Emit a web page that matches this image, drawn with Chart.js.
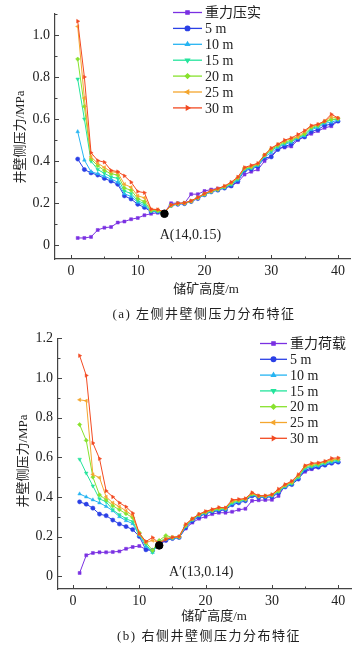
<!DOCTYPE html>
<html>
<head>
<meta charset="utf-8">
<script src="https://cdn.jsdelivr.net/npm/chart.js@4.4.1/dist/chart.umd.min.js"></script>
<style>
body{margin:0;background:#fff;width:363px;height:649px;position:relative;overflow:hidden;font-family:"Liberation Serif","Noto Sans CJK SC",serif;color:#222}
canvas{position:absolute;left:0}
.txt{position:absolute;white-space:nowrap;transform:translate(-50%,-50%);font-size:13px;line-height:1}
.ytit{transform:translate(-50%,-50%) rotate(-90deg)}
.pie{letter-spacing:1.5px}
</style>
</head>
<body>
<canvas id="graficaA" width="363" height="300" style="top:0"></canvas>
<canvas id="graficaB" width="363" height="300" style="top:325px"></canvas>

<div class="txt ytit" style="left:19px;top:137px">井壁侧压力/MPa</div>
<div class="txt" style="left:206px;top:288px">储矿高度/m</div>
<div class="txt pie" style="left:204px;top:313px">(a) 左侧井壁侧压力分布特征</div>

<div class="txt ytit" style="left:22px;top:461px">井壁侧压力/MPa</div>
<div class="txt" style="left:214px;top:615px">储矿高度/m</div>
<div class="txt pie" style="left:209px;top:635px">(b) 右侧井壁侧压力分布特征</div>

<script>
// alturas de almacenamiento (m)
let alturas = [1,2,3,4,5,6,7,8,9,10,11,12,13,14,15,16,17,18,19,20,21,22,23,24,25,26,27,28,29,30,31,32,33,34,35,36,37,38,39,40];
let ticksX = [0,10,20,30,40];
let ticksYA = [0,0.2,0.4,0.6,0.8,1.0];
let ticksYB = [0,0.2,0.4,0.6,0.8,1.0,1.2];

let nombresA = ['重力压实','5 m','10 m','15 m','20 m','25 m','30 m'];
let nombresB = ['重力荷载','5 m','10 m','15 m','20 m','25 m','30 m'];

// (a) lado izquierdo
let izqGravedad = [0.035,0.035,0.04,0.073,0.084,0.087,0.108,0.113,0.124,0.13,0.143,0.15,0.155,0.155,0.2,0.2,0.2,0.243,0.243,0.258,0.265,0.27,0.275,0.282,0.3,0.336,0.35,0.36,0.4,0.423,0.462,0.465,0.47,0.5,0.516,0.53,0.543,0.558,0.566,0.59];
let izq5 = [0.41,0.36,0.344,0.334,0.318,0.305,0.29,0.235,0.22,0.195,0.18,0.16,0.16,0.155,0.19,0.195,0.198,0.208,0.222,0.24,0.254,0.262,0.272,0.282,0.305,0.355,0.362,0.375,0.415,0.42,0.455,0.47,0.48,0.505,0.515,0.54,0.55,0.57,0.575,0.59];
let izq10 = [0.54,0.405,0.35,0.34,0.328,0.315,0.3,0.245,0.232,0.205,0.188,0.162,0.16,0.155,0.19,0.196,0.2,0.21,0.224,0.24,0.255,0.264,0.274,0.288,0.31,0.36,0.366,0.38,0.42,0.44,0.465,0.48,0.49,0.51,0.52,0.55,0.56,0.58,0.585,0.595];
let izq15 = [0.79,0.6,0.4,0.36,0.342,0.325,0.318,0.258,0.246,0.212,0.198,0.164,0.162,0.155,0.188,0.197,0.2,0.21,0.225,0.242,0.256,0.265,0.276,0.29,0.315,0.362,0.368,0.383,0.425,0.45,0.47,0.485,0.495,0.512,0.525,0.555,0.565,0.585,0.595,0.6];
let izq20 = [0.885,0.66,0.41,0.378,0.356,0.34,0.334,0.272,0.262,0.222,0.208,0.166,0.165,0.155,0.19,0.198,0.2,0.21,0.226,0.243,0.257,0.266,0.278,0.295,0.32,0.366,0.372,0.386,0.428,0.455,0.475,0.49,0.5,0.515,0.53,0.56,0.57,0.588,0.598,0.602];
let izq25 = [1.04,0.7,0.42,0.39,0.37,0.35,0.345,0.29,0.276,0.235,0.226,0.17,0.17,0.156,0.19,0.198,0.2,0.21,0.226,0.244,0.258,0.267,0.28,0.298,0.322,0.368,0.375,0.388,0.43,0.46,0.48,0.495,0.508,0.515,0.54,0.565,0.575,0.59,0.61,0.605];
let izq30 = [1.065,0.8,0.44,0.403,0.395,0.356,0.35,0.33,0.3,0.256,0.25,0.172,0.17,0.158,0.192,0.2,0.202,0.212,0.228,0.246,0.26,0.27,0.282,0.3,0.325,0.37,0.38,0.39,0.43,0.462,0.48,0.5,0.51,0.527,0.545,0.569,0.575,0.59,0.623,0.605];

// (b) lado derecho
let derGravedad = [0.016,0.105,0.117,0.12,0.12,0.122,0.125,0.138,0.147,0.152,0.135,0.13,0.16,0.18,0.19,0.195,0.24,0.27,0.29,0.3,0.313,0.32,0.32,0.325,0.335,0.34,0.38,0.383,0.384,0.385,0.405,0.458,0.475,0.497,0.527,0.54,0.55,0.563,0.57,0.577];
let der5 = [0.375,0.363,0.343,0.313,0.305,0.283,0.263,0.25,0.235,0.2,0.133,0.13,0.16,0.18,0.19,0.195,0.245,0.278,0.3,0.315,0.325,0.33,0.335,0.36,0.37,0.38,0.405,0.398,0.398,0.4,0.42,0.45,0.462,0.49,0.535,0.545,0.55,0.56,0.57,0.575];
let der10 = [0.415,0.4,0.385,0.37,0.352,0.33,0.3,0.28,0.265,0.205,0.15,0.12,0.17,0.185,0.19,0.196,0.25,0.283,0.305,0.318,0.328,0.335,0.338,0.365,0.375,0.384,0.41,0.4,0.4,0.405,0.425,0.452,0.466,0.496,0.542,0.552,0.556,0.566,0.575,0.58];
let der15 = [0.59,0.52,0.455,0.39,0.375,0.335,0.31,0.29,0.275,0.21,0.16,0.12,0.175,0.19,0.192,0.197,0.253,0.286,0.308,0.32,0.33,0.338,0.34,0.37,0.378,0.386,0.412,0.402,0.402,0.407,0.428,0.455,0.468,0.5,0.546,0.555,0.56,0.57,0.58,0.585];
let der20 = [0.765,0.685,0.5,0.41,0.385,0.355,0.335,0.315,0.295,0.22,0.17,0.13,0.18,0.205,0.195,0.198,0.256,0.288,0.31,0.322,0.332,0.34,0.342,0.375,0.382,0.388,0.415,0.404,0.404,0.41,0.43,0.458,0.472,0.505,0.552,0.56,0.565,0.575,0.585,0.59];
let der25 = [0.89,0.885,0.513,0.497,0.4,0.37,0.35,0.33,0.305,0.21,0.17,0.18,0.17,0.19,0.196,0.2,0.26,0.29,0.312,0.325,0.335,0.345,0.345,0.38,0.385,0.39,0.418,0.405,0.405,0.41,0.435,0.46,0.476,0.51,0.556,0.565,0.57,0.578,0.588,0.593];
let der30 = [1.113,1.013,0.672,0.593,0.43,0.4,0.37,0.35,0.318,0.215,0.175,0.195,0.165,0.185,0.196,0.2,0.262,0.29,0.313,0.327,0.337,0.347,0.345,0.385,0.388,0.392,0.422,0.406,0.406,0.412,0.44,0.463,0.48,0.513,0.558,0.57,0.572,0.58,0.595,0.597];

// puntos marcados
let puntoA = {x:14, y:0.15};
let puntoB = {x:13, y:0.155};
let textoA = 'A(14,0.15)';
let textoB = 'A′(13,0.14)';

let colores = ['#7a30e2','#2b40e6','#26b4f2','#24e49c','#88e22e','#f4a62e','#f24a22'];
let estilos = ['rect','circle','triangle','triangle','rectRot','triangle','triangle'];
let giros = [0,0,0,180,0,-90,90];

let fuente = '"Liberation Serif","Noto Sans CJK SC",serif';

function armarSeries(nombres, series, punto){
    let ds = series.map((s, i) => ({
        label: nombres[i],
        data: alturas.map((h, k) => ({x: h, y: s[k]})),
        borderColor: colores[i],
        backgroundColor: colores[i],
        pointStyle: estilos[i],
        rotation: giros[i],
        pointRadius: 2.1,
        pointBorderWidth: 0.5,
        borderWidth: 1,
        order: 10 - i
    }));
    ds.push({
        label: 'marca',
        marca: true,
        data: [punto],
        showLine: false,
        pointRadius: 3.8,
        pointStyle: 'circle',
        backgroundColor: '#000',
        borderColor: '#000',
        order: 0
    });
    return ds;
}

// marcas de ejes hacia adentro
const marcasEjes = {
    id: 'marcasEjes',
    afterDraw(chart, args, opts){
        let ctx = chart.ctx, sx = chart.scales.x, sy = chart.scales.y, area = chart.chartArea;
        ctx.save();
        ctx.strokeStyle = '#444';
        ctx.lineWidth = 1;
        ctx.beginPath();
        for (let v = 0; v <= 40; v += 5){
            let px = Math.round(sx.getPixelForValue(v)) + 0.5;
            let largo = v % 10 === 0 ? 4 : 2.5;
            ctx.moveTo(px, area.bottom);
            ctx.lineTo(px, area.bottom - largo);
        }
        for (let k = 0; k <= opts.pasosY; k++){
            let py = Math.round(sy.getPixelForValue(k / 10)) + 0.5;
            let largo = k % 2 === 0 ? 4 : 2.5;
            ctx.moveTo(area.left, py);
            ctx.lineTo(area.left + largo, py);
        }
        ctx.stroke();
        ctx.restore();
    }
};

// leyenda dentro del grafico
const leyenda = {
    id: 'leyenda',
    afterDraw(chart, args, opts){
        let ctx = chart.ctx;
        ctx.save();
        chart.data.datasets.forEach((ds, i) => {
            if (ds.marca) return;
            let yy = opts.y + i * opts.paso;
            ctx.strokeStyle = ds.borderColor;
            ctx.lineWidth = 1.3;
            ctx.beginPath();
            ctx.moveTo(opts.x, yy);
            ctx.lineTo(opts.x + opts.largo, yy);
            ctx.stroke();
            ctx.fillStyle = ds.backgroundColor;
            Chart.helpers.drawPoint(ctx, {pointStyle: ds.pointStyle, rotation: ds.rotation, radius: 2.3, borderWidth: 0.5}, opts.x + opts.largo / 2, yy);
            ctx.fillStyle = '#222';
            ctx.font = '14px ' + fuente;
            ctx.textAlign = 'left';
            ctx.textBaseline = 'middle';
            ctx.fillText(ds.label, opts.x + opts.largo + 3, yy + 1);
        });
        ctx.restore();
    }
};

// texto junto al punto negro
const etiqueta = {
    id: 'etiqueta',
    afterDraw(chart, args, opts){
        let ctx = chart.ctx;
        let p = opts.punto;
        let px = chart.scales.x.getPixelForValue(p.x);
        let py = chart.scales.y.getPixelForValue(p.y);
        ctx.save();
        ctx.fillStyle = '#222';
        ctx.font = '14px ' + fuente;
        ctx.textAlign = 'center';
        ctx.textBaseline = 'middle';
        ctx.fillText(opts.texto, px + opts.dx, py + opts.dy);
        ctx.restore();
    }
};

function crearGrafica(id, nombres, series, punto, texto, cfg){
    let ctx = document.getElementById(id).getContext('2d');
    return new Chart(ctx, {
        type: 'line',
        data: {datasets: armarSeries(nombres, series, punto)},
        plugins: [marcasEjes, leyenda, etiqueta],
        options: {
            responsive: false,
            animation: false,
            layout: {padding: cfg.padding},
            plugins: {
                legend: {display: false},
                tooltip: {enabled: false},
                marcasEjes: {pasosY: cfg.pasosY},
                leyenda: cfg.leyenda,
                etiqueta: {punto: punto, texto: texto, dx: cfg.dx, dy: cfg.dy}
            },
            scales: {
                x: {
                    type: 'linear',
                    min: cfg.xMin, max: cfg.xMax,
                    afterBuildTicks: s => { s.ticks = ticksX.map(v => ({value: v})); },
                    afterFit: s => { s.height = 20; },
                    grid: {display: true, drawOnChartArea: false, drawTicks: false},
                    border: {display: true, color: '#444', width: 1.2},
                    ticks: {padding: 4, color: '#222', font: {family: fuente, size: 14}, maxRotation: 0}
                },
                y: {
                    type: 'linear',
                    min: cfg.yMin, max: cfg.yMax,
                    afterBuildTicks: s => { s.ticks = cfg.ticksY.map(v => ({value: v})); },
                    afterFit: s => { s.width = 22; },
                    grid: {display: true, drawOnChartArea: false, drawTicks: false},
                    border: {display: true, color: '#444', width: 1.2},
                    ticks: {
                        padding: 5, color: '#222', font: {family: fuente, size: 14},
                        callback: v => v === 0 ? '0' : v.toFixed(1)
                    }
                }
            }
        }
    });
}

crearGrafica('graficaA', nombresA, [izqGravedad, izq5, izq10, izq15, izq20, izq25, izq30], puntoA, textoA, {
    padding: {left: 33, right: 13, top: 8, bottom: 21},
    xMin: -2.4, xMax: 41.8, yMin: -0.065, yMax: 1.102,
    ticksY: ticksYA, pasosY: 11,
    leyenda: {x: 173, y: 12.5, paso: 15.9, largo: 29},
    dx: 26, dy: 22
});

crearGrafica('graficaB', nombresB, [derGravedad, der5, der10, der15, der20, der25, der30], puntoB, textoB, {
    padding: {left: 36, right: 11.5, top: 11, bottom: 16},
    xMin: -2.26, xMax: 42, yMin: -0.065, yMax: 1.2,
    ticksY: ticksYB, pasosY: 12,
    leyenda: {x: 260, y: 18.5, paso: 15.8, largo: 27},
    dx: 42, dy: 27
});
</script>
</body>
</html>
